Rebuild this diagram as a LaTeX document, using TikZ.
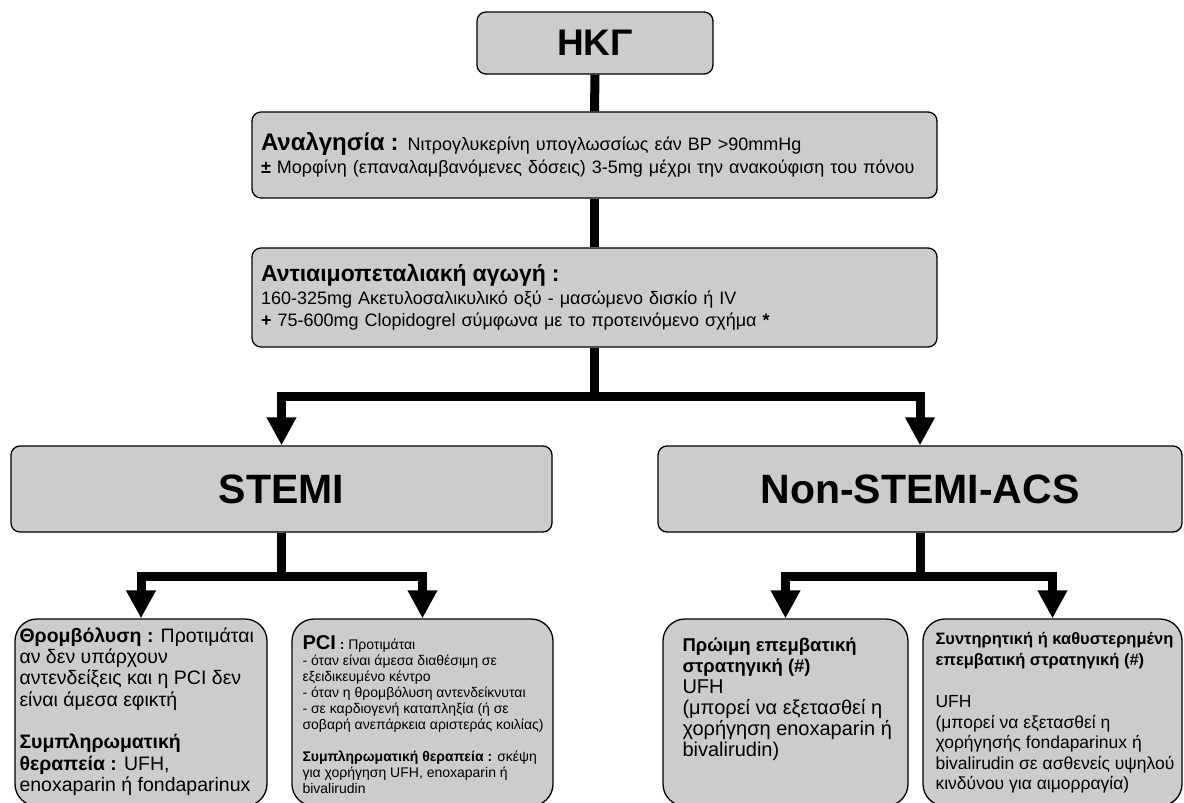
\documentclass[tikz,border=0pt]{standalone}
\usepackage{fontspec}
\setmainfont{Liberation Sans}
\usetikzlibrary{arrows.meta}
\definecolor{boxgray}{RGB}{204,204,204}
\begin{document}
\begin{tikzpicture}[x=1pt,y=-1pt,
  box/.style={draw=black, line width=1.3pt, fill=boxgray, rounded corners=9pt, inner sep=0pt},
  bigbox/.style={box, rounded corners=22pt},
  txt/.style={anchor=north west, align=left, inner sep=0pt},
  conn/.style={line width=9pt, line join=miter, line cap=butt},
  arr/.style={conn, -{Triangle[width=28pt,length=28pt]}}]
\clip (0,0) rectangle (1184,803);
\fill[white] (0,0) rectangle (1184,803);

\node[box, minimum width=236pt, minimum height=62pt, font=\fontsize{37}{40}\selectfont\bfseries] (ekg) at (595,43) {ΗΚΓ};

\node[box, minimum width=685pt, minimum height=86pt, text width=667pt, align=left, font=\fontsize{18}{23}\selectfont] (analg) at (594.5,155)
 {\mbox{{\fontsize{24}{23}\selectfont\bfseries Αναλγησία :} Νιτρογλυκερίνη υπογλωσσίως εάν BP >90mmHg}\\
  \mbox{{\bfseries ±} Μορφίνη (επαναλαμβανόμενες δόσεις) 3-5mg μέχρι την ανακούφιση του πόνου}};

\node[box, minimum width=685pt, minimum height=99pt, text width=667pt, align=left, font=\fontsize{18}{22.5}\selectfont] (anti) at (594.5,297.5)
 {\mbox{\fontsize{23}{22.5}\selectfont\bfseries Αντιαιμοπεταλιακή αγωγή :}\\
  \mbox{160-325mg Ακετυλοσαλικυλικό οξύ - μασώμενο δισκίο ή IV}\\
  \mbox{{\bfseries +} 75-600mg Clopidogrel σύμφωνα με το προτεινόμενο σχήμα {\bfseries *}}};

\node[box, minimum width=541pt, minimum height=86pt, font=\fontsize{41}{44}\selectfont\bfseries] (stemi) at (281.5,489) {STEMI};
\node[box, minimum width=524pt, minimum height=86pt, font=\fontsize{41}{44}\selectfont\bfseries] (nstemi) at (920,489) {Non-STEMI-ACS};

\node[bigbox, minimum width=252pt, minimum height=187pt] (thr) at (141,712.5) {};
\node[bigbox, minimum width=261pt, minimum height=187pt] (pci) at (422.5,712.5) {};
\node[bigbox, minimum width=245pt, minimum height=187pt] (early) at (785.5,712.5) {};
\node[bigbox, minimum width=259pt, minimum height=187pt] (cons) at (1052.5,712.5) {};

\node[txt, font=\fontsize{19.5}{21.3}\selectfont] (thrT) at ([xshift=5pt,yshift=-9pt]thr.north west)
 {{\bfseries Θρομβόλυση :} Προτιμάται\\
  αν δεν υπάρχουν\\
  αντενδείξεις και η PCI δεν\\
  είναι άμεσα εφικτή\\[21.3pt]
  {\bfseries Συμπληρωματική}\\
  {\bfseries θεραπεία :} UFH,\\
  enoxaparin ή fondaparinux};

\node[txt, font=\fontsize{14}{16}\selectfont] (pciT) at ([xshift=11pt,yshift=-17pt]pci.north west)
 {{\fontsize{20}{16}\selectfont\bfseries PCI} {\bfseries :} Προτιμάται\\
  - όταν είναι άμεσα διαθέσιμη σε\\
  εξειδικευμένο κέντρο\\
  - όταν η θρομβόλυση αντενδείκνυται\\
  - σε καρδιογενή καταπληξία (ή σε\\
  σοβαρή ανεπάρκεια αριστεράς κοιλίας)\\[16pt]
  {\bfseries Συμπληρωματική θεραπεία :} σκέψη\\
  για χορήγηση UFH, enoxaparin ή\\
  bivalirudin};

\node[txt, font=\fontsize{20}{21}\selectfont] (earlyT) at ([xshift=20pt,yshift=-19pt]early.north west)
 {{\fontsize{18.5}{21}\selectfont\bfseries Πρώιμη επεμβατική}\\
  {\fontsize{18.5}{21}\selectfont\bfseries στρατηγική (\#)}\\
  UFH\\
  (μπορεί να εξετασθεί η\\
  χορήγηση enoxaparin ή\\
  bivalirudin)};

\node[txt, font=\fontsize{17.5}{20.5}\selectfont] (consT) at ([xshift=13pt,yshift=-14pt]cons.north west)
 {{\fontsize{16.5}{20.5}\selectfont\bfseries Συντηρητική ή καθυστερημένη}\\
  {\fontsize{16.5}{20.5}\selectfont\bfseries επεμβατική στρατηγική (\#)}\\[22pt]
  UFH\\
  (μπορεί να εξετασθεί η\\
  χορήγησής fondaparinux ή\\
  bivalirudin σε ασθενείς υψηλού\\
  κινδύνου για αιμορραγία)};

\coordinate (j1) at (594.5,396);
\coordinate (j2) at (281.5,576);
\coordinate (j3) at (920,576);
\draw[conn] (ekg.south) -- (analg.north);
\draw[conn] (analg.south) -- (anti.north);
\draw[conn] (anti.south) -- (j1);
\draw[arr] (j1) -| (stemi.north);
\draw[arr] (j1) -| (nstemi.north);
\draw[conn] (stemi.south) -- (j2);
\draw[arr] (j2) -| (thr.north);
\draw[arr] (j2) -| (pci.north);
\draw[conn] (nstemi.south) -- (j3);
\draw[arr] (j3) -| (early.north);
\draw[arr] (j3) -| (cons.north);
\end{tikzpicture}
\end{document}
